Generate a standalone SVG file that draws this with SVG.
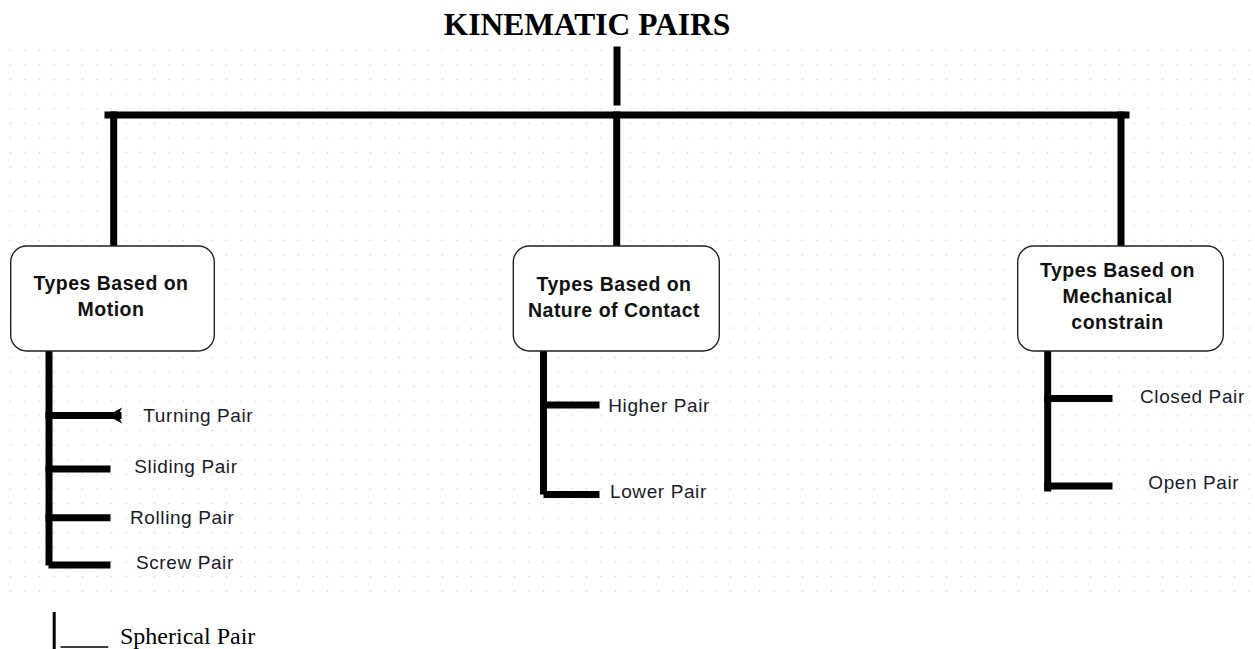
<svg xmlns="http://www.w3.org/2000/svg" width="1255" height="649" viewBox="0 0 1255 649">
  <defs>
    <pattern id="grid" x="3.5" y="43" width="14.4" height="14.62" patternUnits="userSpaceOnUse">
      <rect x="6.5" y="6.6" width="1.4" height="1.4" fill="#d0d0d0"/>
    </pattern>
    <style>
      .bar { stroke: #000; stroke-width: 7; fill: none; stroke-linecap: square; }
      .box { fill: #fff; stroke: #222; stroke-width: 1.4; }
      .btxt { font-family: "Liberation Sans", Arial, sans-serif; font-weight: bold; font-size: 19.5px; fill: #111; text-anchor: middle; letter-spacing: 0.5px; }
      .ltxt { font-family: "Liberation Sans", Arial, sans-serif; font-size: 19px; fill: #1a1a2a; letter-spacing: 0.6px; }
      .title { font-family: "Liberation Serif", "Times New Roman", serif; font-weight: bold; font-size: 31.5px; fill: #000; text-anchor: middle; }
      .serif { font-family: "Liberation Serif", "Times New Roman", serif; font-size: 24px; fill: #000; }
    </style>
  </defs>
  <rect width="1255" height="649" fill="#fff"/>
  <rect x="0" y="43" width="1255" height="555" fill="url(#grid)"/>

  <text class="title" x="587" y="35">KINEMATIC PAIRS</text>

  <g id="connectors">
    <line class="bar" x1="617" y1="50" x2="617" y2="102"/>
    <line class="bar" x1="108" y1="115" x2="1126" y2="115"/>
    <line class="bar" x1="113.7" y1="115" x2="113.7" y2="246"/>
    <line class="bar" x1="616.7" y1="115" x2="616.7" y2="246"/>
    <line class="bar" x1="1121" y1="115" x2="1121" y2="246"/>

    <!-- motion children -->
    <line class="bar" x1="49" y1="351" x2="49" y2="562"/>
    <line class="bar" x1="49" y1="415.5" x2="118" y2="415.5"/>
    <path d="M122,407.5 L107.5,415.5 L122,423.5 L118,415.5 Z" fill="#000"/>
    <line class="bar" x1="49" y1="469" x2="107" y2="469"/>
    <line class="bar" x1="49" y1="517.7" x2="107" y2="517.7"/>
    <line class="bar" x1="52" y1="565" x2="107" y2="565"/>

    <!-- contact children -->
    <line class="bar" x1="543.5" y1="351" x2="543.5" y2="491"/>
    <line class="bar" x1="543.5" y1="405" x2="596" y2="405"/>
    <line class="bar" x1="547" y1="494.5" x2="596" y2="494.5"/>

    <!-- constraint children -->
    <line class="bar" x1="1047.7" y1="348" x2="1047.7" y2="488"/>
    <line class="bar" x1="1047.7" y1="398.5" x2="1109" y2="398.5"/>
    <line class="bar" x1="1047.7" y1="486" x2="1109" y2="486"/>

    <!-- spherical -->
    <line x1="54.2" y1="612" x2="54.2" y2="649" stroke="#000" stroke-width="3"/>
    <line x1="60.5" y1="647" x2="108.3" y2="647" stroke="#000" stroke-width="1.4"/>
  </g>

  <g id="node-motion">
    <rect class="box" x="10.7" y="246" width="203.6" height="105" rx="16"/>
    <text class="btxt" x="111" y="290">Types Based on</text>
    <text class="btxt" x="111" y="316">Motion</text>
  </g>
  <g id="node-contact">
    <rect class="box" x="513.3" y="246" width="206" height="105" rx="16"/>
    <text class="btxt" x="614" y="291">Types Based on</text>
    <text class="btxt" x="614" y="316.7">Nature of Contact</text>
  </g>
  <g id="node-constraint">
    <rect class="box" x="1017.7" y="246" width="205.6" height="105" rx="16"/>
    <text class="btxt" x="1117.5" y="277.3">Types Based on</text>
    <text class="btxt" x="1117.5" y="303.3">Mechanical</text>
    <text class="btxt" x="1117.5" y="329.3">constrain</text>
  </g>

  <g id="node-turning"><text class="ltxt" x="143.3" y="421.7">Turning Pair</text></g>
  <g id="node-sliding"><text class="ltxt" x="134.3" y="473.3">Sliding Pair</text></g>
  <g id="node-rolling"><text class="ltxt" x="130" y="524.3">Rolling Pair</text></g>
  <g id="node-screw"><text class="ltxt" x="136" y="569.3">Screw Pair</text></g>
  <g id="node-higher"><text class="ltxt" x="608.3" y="411.7">Higher Pair</text></g>
  <g id="node-lower"><text class="ltxt" x="610" y="497.7">Lower Pair</text></g>
  <g id="node-closed"><text class="ltxt" x="1140" y="402.7">Closed Pair</text></g>
  <g id="node-open"><text class="ltxt" x="1148.3" y="489.3">Open Pair</text></g>
  <g id="node-spherical"><text class="serif" x="120" y="644">Spherical Pair</text></g>
</svg>
